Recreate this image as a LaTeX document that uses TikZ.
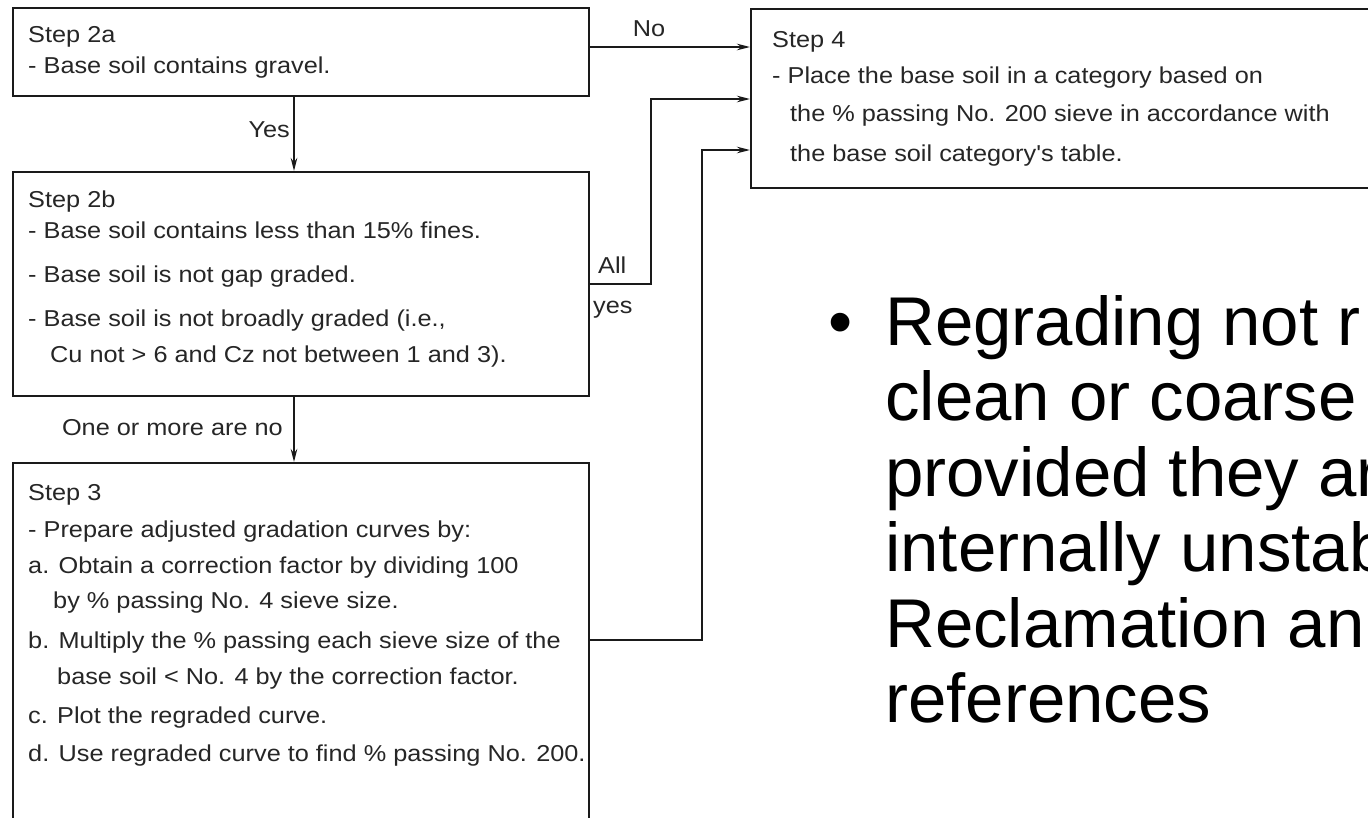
\documentclass[tikz,border=0pt]{standalone}
\usepackage{fontspec}
\newfontfamily\diagfont{Liberation Sans}[FakeStretch=1.1]
\newfontfamily\bigfont{Liberation Sans}
\usetikzlibrary{arrows.meta,calc}
\definecolor{ink}{HTML}{1A1A1A}
\definecolor{txt}{HTML}{262626}
\begin{document}
\begin{tikzpicture}[x=1pt,y=-1pt,
  box/.style={draw=ink,line width=2pt,inner sep=0pt,anchor=north west},
  t/.style={anchor=base west,inner sep=0pt,text=txt,font=\diagfont\fontsize{23}{27}\selectfont},
  te/.style={t,anchor=base east},
  arr/.style={draw=ink,line width=2pt,-{Stealth[length=13pt,width=6.5pt]}},
  big/.style={anchor=base west,inner sep=0pt,text=black,font=\bigfont\fontsize{69}{79}\selectfont}]
\useasboundingbox (0,0) rectangle (1368,817);
\fill[white] (0,0) rectangle (1368,817);
\clip (0,0) rectangle (1368,817);
% boxes
\node[box,minimum width=576pt,minimum height=88pt] (s2a) at (12,7) {};
\node[box,minimum width=576pt,minimum height=224pt] (s2b) at (12,171) {};
\node[box,minimum width=576pt,minimum height=420pt] (s3) at (12,462) {};
\node[box,minimum width=700pt,minimum height=179pt] (s4) at (750,8) {};
% texts
\node[t] (a1) at (28,42) {Step 2a};
\node[t] (a2) at (28,73) {- Base soil contains gravel.};
\node[t] (b1) at (28,207) {Step 2b};
\node[t] (b2) at (28,238) {- Base soil contains less than 15\% fines.};
\node[t] (b3) at (28,282) {- Base soil is not gap graded.};
\node[t] (b4) at (28,326) {- Base soil is not broadly graded (i.e.,};
\node[t] (b5) at (50,362) {Cu not > 6 and Cz not between 1 and 3).};
\node[t] (c1) at (28,500) {Step 3};
\node[t] (c2) at (28,537) {- Prepare adjusted gradation curves by:};
\node[t] (c3) at (28,573) {a. Obtain a correction factor by dividing 100};
\node[t] (c4) at (53,608) {by \% passing No. 4 sieve size.};
\node[t] (c5) at (28,648) {b. Multiply the \% passing each sieve size of the};
\node[t] (c6) at (57,684) {base soil < No. 4 by the correction factor.};
\node[t] (c7) at (28,723) {c. Plot the regraded curve.};
\node[t] (c8) at (28,761) {d. Use regraded curve to find \% passing No. 200.};
\node[t] (d1) at (772,47) {Step 4};
\node[t] (d2) at (772,83) {- Place the base soil in a category based on};
\node[t] (d3) at (790,121) {the \% passing No. 200 sieve in accordance with};
\node[t] (d4) at (790,161) {the base soil category's table.};
% connector labels
\node[t,anchor=base] (lno) at (649,36) {No};
\node[te] (lyes) at (290,137) {Yes};
\node[t] (lall) at (598,273) {All};
\node[t] (lyes2) at (593,313) {yes};
\node[te] (lone) at (283,435) {One or more are no};
% connectors
\coordinate (i1) at ($(s4.north west)+(0,39)$);
\coordinate (i2) at ($(s4.north west)+(0,91)$);
\coordinate (i3) at ($(s4.north west)+(0,142)$);
\coordinate (o3) at ($(s3.north east)+(0,178)$);
\draw[arr] (s2a.east |- i1) -- (i1);
\draw[arr] ([xshift=-7pt]s2a.south) -- ([xshift=-7pt]s2b.north);
\draw[arr] (s2b.east) -- ++(61,0) |- (i2);
\draw[arr] ([xshift=-7pt]s2b.south) -- ([xshift=-7pt]s3.north);
\draw[arr] (o3) -- ++(112,0) |- (i3);
% bullet text
\node[big] (bul) at (828,345) {•};
\node[big] (r1) at (885,345) {Regrading not r};
\node[big] (r2) at (885,420) {clean or coarse};
\node[big] (r3) at (885,496) {provided they ar};
\node[big] (r4) at (885,571) {internally unstab};
\node[big] (r5) at (885,647) {Reclamation an};
\node[big] (r6) at (885,722) {references};
\end{tikzpicture}
\end{document}
